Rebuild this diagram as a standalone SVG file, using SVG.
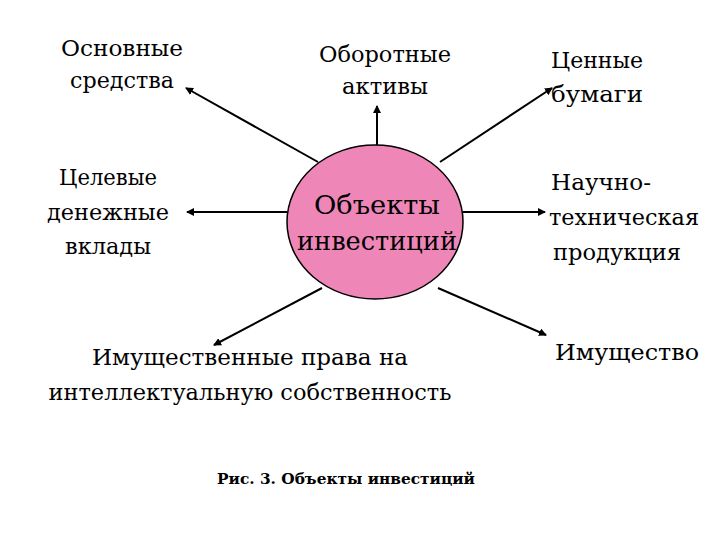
<svg xmlns="http://www.w3.org/2000/svg" width="720" height="540" viewBox="0 0 720 540">
<defs><marker id="a" markerWidth="8" markerHeight="8" refX="7" refY="4" orient="auto" markerUnits="userSpaceOnUse"><path d="M0,0 L8,4 L0,8 z" fill="#000"/></marker>
<style>text{font-family:"DejaVu Serif","Liberation Serif",serif;font-size:23px;fill:#000;text-anchor:middle}.c{font-size:26px}.cap{font-size:15px;font-weight:bold}line{stroke:#000;stroke-width:2;marker-end:url(#a)}</style></defs>
<rect width="720" height="540" fill="#fff"/>
<g id="connectors">
<line x1="377" y1="145" x2="377" y2="106"/>
<line x1="318" y1="162" x2="186" y2="88"/>
<line x1="440" y1="162" x2="552" y2="88"/>
<line x1="287" y1="212" x2="187" y2="212"/>
<line x1="463" y1="212" x2="545" y2="212"/>
<line x1="322" y1="288" x2="214" y2="345"/>
<line x1="438" y1="288" x2="546" y2="335"/>
</g>
<g id="center"><ellipse cx="375" cy="222" rx="88" ry="77" fill="#ee86b8" stroke="#000" stroke-width="1.5"/>
<text class="c" x="377" y="214" textLength="126" lengthAdjust="spacingAndGlyphs">Объекты</text><text class="c" x="377" y="250" textLength="160" lengthAdjust="spacingAndGlyphs">инвестиций</text></g>
<g id="n1"><text x="122" y="56" textLength="122" lengthAdjust="spacingAndGlyphs">Основные</text><text x="122" y="88" textLength="104" lengthAdjust="spacingAndGlyphs">средства</text></g>
<g id="n2"><text x="385" y="62" textLength="132" lengthAdjust="spacingAndGlyphs">Оборотные</text><text x="385" y="94" textLength="86" lengthAdjust="spacingAndGlyphs">активы</text></g>
<g id="n3"><text x="597" y="68" textLength="92" lengthAdjust="spacingAndGlyphs">Ценные</text><text x="597" y="102" textLength="92" lengthAdjust="spacingAndGlyphs">бумаги</text></g>
<g id="n4"><text x="108" y="185" textLength="98" lengthAdjust="spacingAndGlyphs">Целевые</text><text x="108" y="220" textLength="122" lengthAdjust="spacingAndGlyphs">денежные</text><text x="108" y="254" textLength="86" lengthAdjust="spacingAndGlyphs">вклады</text></g>
<g id="n5"><text x="601" y="190" textLength="100" lengthAdjust="spacingAndGlyphs">Научно-</text><text x="624" y="225" textLength="150" lengthAdjust="spacingAndGlyphs">техническая</text><text x="617" y="260" textLength="128" lengthAdjust="spacingAndGlyphs">продукция</text></g>
<g id="n6"><text x="250" y="365" textLength="316" lengthAdjust="spacingAndGlyphs">Имущественные права на</text><text x="250" y="400" textLength="403" lengthAdjust="spacingAndGlyphs">интеллектуальную собственность</text></g>
<g id="n7"><text x="627" y="360" textLength="144" lengthAdjust="spacingAndGlyphs">Имущество</text></g>
<text class="cap" x="346" y="484" textLength="258" lengthAdjust="spacingAndGlyphs">Рис. 3. Объекты инвестиций</text>
</svg>
